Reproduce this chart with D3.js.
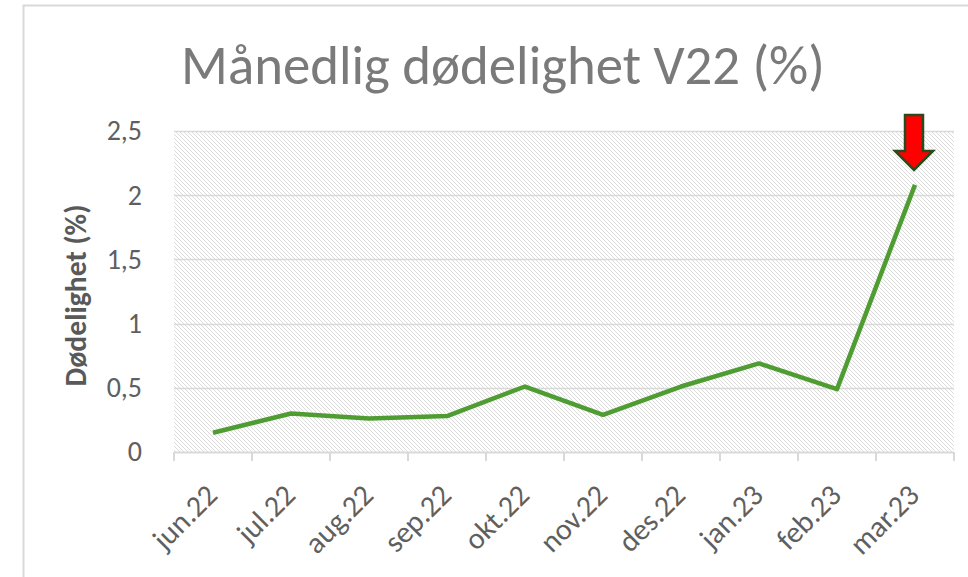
<!DOCTYPE html>
<html>
<head>
<meta charset="utf-8">
<script src="https://cdn.jsdelivr.net/npm/d3@7"></script>
<style>
  html, body { margin: 0; padding: 0; background: #fff; }
  svg { display: block; }
  text { font-family: Carlito, Calibri, Lato, sans-serif; }
</style>
</head>
<body>
<svg id="chart" width="968" height="577"></svg>
<script>
// ---- data ----
const title = "Månedlig dødelighet V22 (%)";
const yTitle = "Dødelighet (%)";
const months = ["jun.22", "jul.22", "aug.22", "sep.22", "okt.22", "nov.22", "des.22", "jan.23", "feb.23", "mar.23"];
const values = [0.15, 0.30, 0.26, 0.28, 0.51, 0.29, 0.51, 0.69, 0.49, 2.08];
const yTicks = [0, 0.5, 1, 1.5, 2, 2.5];
const yTickLabels = ["0", "0,5", "1", "1,5", "2", "2,5"];

// ---- layout ----
const W = 968, H = 577;
const plot = { left: 174, right: 954, top: 131, bottom: 452 };

const svg = d3.select("#chart");

// hatch pattern
const defs = svg.append("defs");
const pat = defs.append("pattern")
  .attr("id", "hatch").attr("patternUnits", "userSpaceOnUse")
  .attr("width", 4).attr("height", 4);
pat.append("rect").attr("width", 4).attr("height", 4).attr("fill", "#fff");
for (let i = 0; i < 4; i++) {
  pat.append("rect").attr("x", i).attr("y", i).attr("width", 1).attr("height", 1)
    .attr("fill", "#dcdcdc").attr("shape-rendering", "crispEdges");
}

// outer chart border (extends past right/bottom edge)
svg.append("rect")
  .attr("x", 23.5).attr("y", 5.5).attr("width", 1000).attr("height", 700)
  .attr("fill", "none").attr("stroke", "#d9d9d9").attr("stroke-width", 2);

const x = d3.scaleBand().domain(months).range([plot.left, plot.right]).padding(0);
const y = d3.scaleLinear().domain([0, 2.5]).range([plot.bottom, plot.top]);

// plot background
svg.append("rect")
  .attr("x", plot.left).attr("y", plot.top)
  .attr("width", plot.right - plot.left).attr("height", plot.bottom - plot.top)
  .attr("fill", "url(#hatch)");

// gridlines
svg.append("g").selectAll("line").data(yTicks.filter(d => d > 0)).join("line")
  .attr("x1", plot.left).attr("x2", plot.right)
  .attr("y1", d => Math.round(y(d)) + 0.5).attr("y2", d => Math.round(y(d)) + 0.5)
  .attr("stroke", "#d9d9d9").attr("stroke-width", 1.5);

// y axis labels
const yAxis = d3.axisLeft(y).tickValues(yTicks)
  .tickFormat((d, i) => yTickLabels[i]).tickSize(0).tickPadding(32);
const gy = svg.append("g").attr("transform", `translate(${plot.left},0)`).call(yAxis);
gy.select(".domain").remove();
gy.selectAll("text").attr("font-size", 28).attr("fill", "#5f5f5f")
  .style("font-family", "Carlito, Calibri, Lato, sans-serif");

// x axis
const boundaries = months.map(m => x(m)).concat([plot.right]);
const gx = svg.append("g");
gx.append("line").attr("x1", plot.left).attr("x2", plot.right)
  .attr("y1", plot.bottom + 0.5).attr("y2", plot.bottom + 0.5)
  .attr("stroke", "#d9d9d9").attr("stroke-width", 2);
gx.selectAll("line.tick").data(boundaries).join("line").attr("class", "tick")
  .attr("x1", d => d).attr("x2", d => d)
  .attr("y1", plot.bottom).attr("y2", plot.bottom + 9)
  .attr("stroke", "#d9d9d9").attr("stroke-width", 2);
gx.selectAll("text").data(months).join("text")
  .attr("transform", d => `translate(${x(d) + x.bandwidth() / 2 + 6},${plot.bottom + 45}) rotate(-45)`)
  .attr("text-anchor", "end")
  .attr("font-size", 30).attr("fill", "#5f5f5f")
  .text(d => d);

// line
const line = d3.line()
  .x((d, i) => x(months[i]) + x.bandwidth() / 2)
  .y(d => y(d));
svg.append("path").datum(values)
  .attr("d", line)
  .attr("fill", "none").attr("stroke", "#4f9d32").attr("stroke-width", 4.5)
  .attr("stroke-linejoin", "round");

// red arrow pointing at last point
const li = values.length - 1;
const ax = x(months[li]) + x.bandwidth() / 2 - 1;
const tipY = y(values[li]) - 15;
const arrow = [
  [ax - 9, tipY - 55], [ax + 9, tipY - 55], [ax + 9, tipY - 19],
  [ax + 19, tipY - 19], [ax, tipY], [ax - 19, tipY - 19], [ax - 9, tipY - 19]
];
svg.append("path")
  .attr("d", "M" + arrow.map(p => p.join(",")).join("L") + "Z")
  .attr("fill", "#ff0000").attr("stroke", "#2a4a1c").attr("stroke-width", 2.5)
  .attr("stroke-linejoin", "miter");

// title
const t = svg.append("text")
  .attr("x", 503).attr("y", 84).attr("text-anchor", "middle")
  .attr("fill", "#7a7a7a").attr("font-size", 54).text(title);
const tw = t.node().getComputedTextLength();
t.attr("font-size", 54 * 644 / tw);

// y title
const yt = svg.append("text")
  .attr("transform", `translate(86,${(plot.top + plot.bottom) / 2 + 4}) rotate(-90)`)
  .attr("text-anchor", "middle").attr("font-weight", "bold")
  .attr("fill", "#595959").attr("font-size", 22).text(yTitle);
const ytw = yt.node().getComputedTextLength();
yt.attr("font-size", 22 * 182 / ytw);
</script>
</body>
</html>
